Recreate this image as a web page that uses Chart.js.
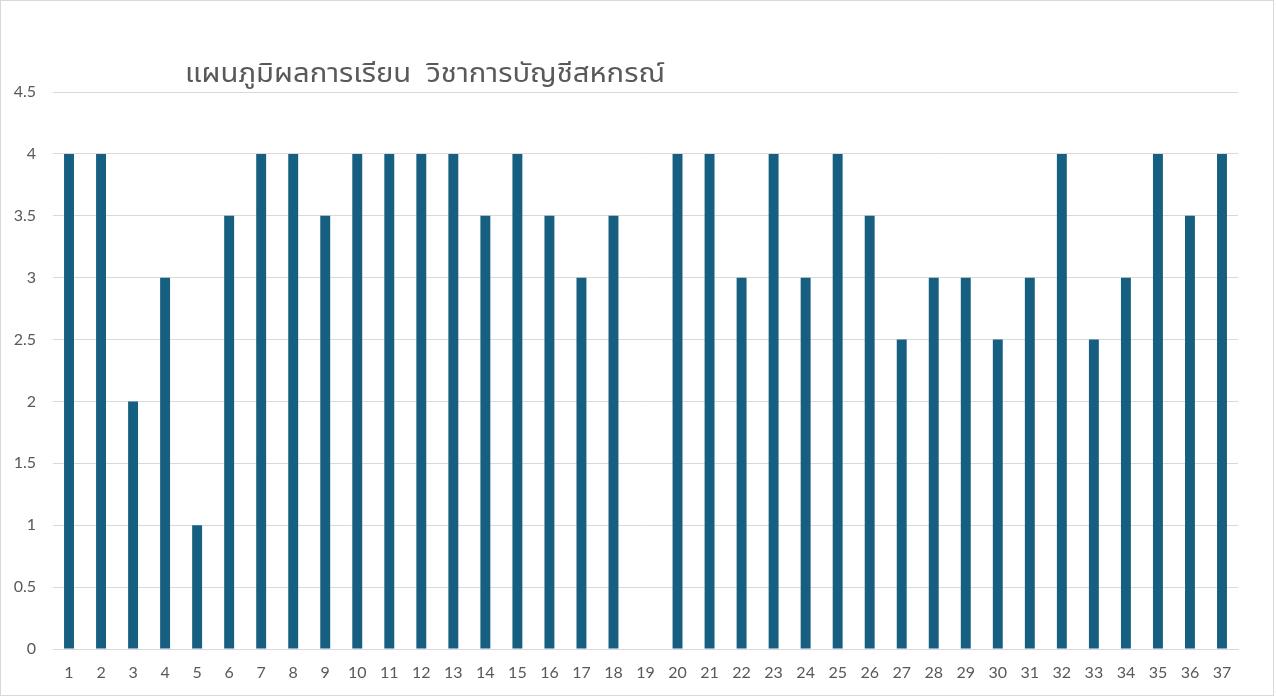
<!DOCTYPE html>
<html>
<head>
<meta charset="utf-8">
<script src="https://cdn.jsdelivr.net/npm/chart.js@4/dist/chart.umd.min.js"></script>
<style>
html,body{margin:0;padding:0;background:#fff;}
#wrap{width:1276px;height:698px;position:relative;}
</style>
</head>
<body>
<div id="wrap"><canvas id="c" width="1276" height="698"></canvas></div>
<script>
const titleText = "แผนภูมิผลการเรียน  วิชาการบัญชีสหกรณ์";
const categories = ["1","2","3","4","5","6","7","8","9","10","11","12","13","14","15","16","17","18","19","20","21","22","23","24","25","26","27","28","29","30","31","32","33","34","35","36","37"];
const grades = [4,4,2,3,1,3.5,4,4,3.5,4,4,4,4,3.5,4,3.5,3,3.5,0,4,4,3,4,3,4,3.5,2.5,3,3,2.5,3,4,2.5,3,4,3.5,4];
const yTicks = [0,0.5,1,1.5,2,2.5,3,3.5,4,4.5];

const frame = {
  id:'frame',
  beforeDraw(chart){
    const ctx = chart.ctx;
    ctx.save();
    ctx.fillStyle='#fff';
    ctx.fillRect(0,0,chart.width,chart.height);
    ctx.strokeStyle='#d9d9d9';
    ctx.lineWidth=1;
    ctx.strokeRect(0.5,0.5,chart.width-3,chart.height-3);
    ctx.restore();
  },
  afterDraw(chart){
    const ctx = chart.ctx;
    ctx.save();
    ctx.fillStyle='#595959';
    ctx.font='26px "Noto Sans Thai", "Noto Sans", sans-serif';
    ctx.textBaseline='alphabetic';
    ctx.textAlign='left';
    const w = ctx.measureText(titleText).width;
    const target = 480;
    ctx.translate(185,82);
    ctx.scale(target/w,1);
    ctx.fillText(titleText,0,0);
    ctx.restore();
  }
};

new Chart(document.getElementById('c'),{
  type:'bar',
  data:{labels:categories,datasets:[{data:grades,backgroundColor:'#175f80',categoryPercentage:1,barPercentage:0.31}]},
  options:{
    responsive:false,animation:false,
    layout:{padding:{left:0,right:38,top:92,bottom:0}},
    plugins:{legend:{display:false},title:{display:false},tooltip:{enabled:false}},
    scales:{
      x:{
        grid:{display:false,drawTicks:false},
        border:{display:true,color:'#d9d9d9',width:1},
        ticks:{color:'#595959',font:{family:'Lato, "Liberation Sans", sans-serif',size:16},padding:14,maxRotation:0,autoSkip:false},
        afterFit(s){s.height=49;}
      },
      y:{
        min:0,max:4.5,
        afterBuildTicks(s){s.ticks=yTicks.map(v=>({value:v}));},
        grid:{color:'#d9d9d9',lineWidth:1,drawTicks:false},
        border:{display:false},
        ticks:{color:'#595959',font:{family:'Lato, "Liberation Sans", sans-serif',size:16},padding:17,callback:v=>String(v)},
        afterFit(s){s.width=53;}
      }
    }
  },
  plugins:[frame]
});
</script>
</body>
</html>
